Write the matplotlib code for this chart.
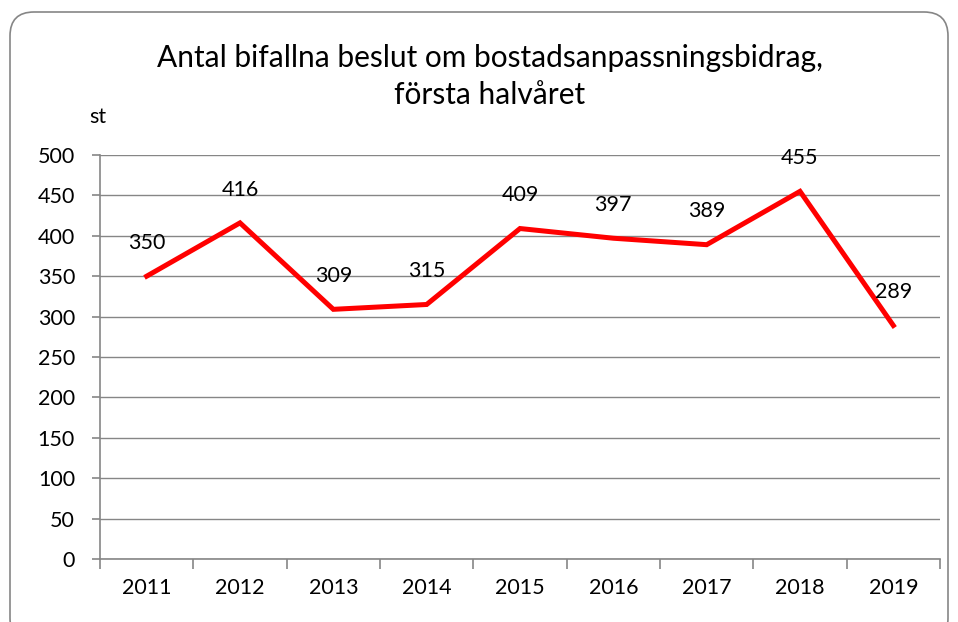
import matplotlib
matplotlib.use("Agg")
import matplotlib.pyplot as plt
from matplotlib.patches import FancyBboxPatch

years = ["2011", "2012", "2013", "2014", "2015", "2016", "2017", "2018", "2019"]
values = [350, 416, 309, 315, 409, 397, 389, 455, 289]
yticks = [0, 50, 100, 150, 200, 250, 300, 350, 400, 450, 500]

plt.rcParams['font.family'] = ['Lato', 'DejaVu Sans']
fig = plt.figure(figsize=(9.58, 6.22), dpi=100)
ax = fig.add_axes([100/958, 1-559/622, 840/958, 404/622])

gray = "#868686"
x = list(range(len(years)))
ax.plot(x, values, color="#FF0000", lw=3.6, solid_joinstyle="miter")
for xi, v in zip(x, values):
    ax.annotate(str(v), (xi, v), xytext=(0, 24), textcoords="offset points",
                ha="center", va="center", fontsize=15.5)

ax.set_xlim(-0.5, len(years) - 0.5)
ax.set_ylim(0, 500)
ax.set_yticks(yticks)
ax.set_yticklabels([str(t) for t in yticks], fontsize=15.5)
ax.set_xticks(x)
ax.set_xticklabels(years, fontsize=15.5)
ax.set_xticks([i - 0.5 for i in range(len(years) + 1)], minor=True)
ax.tick_params(axis="x", which="major", length=0, pad=14)
ax.tick_params(axis="x", which="minor", length=7, color=gray, width=1.2)
ax.tick_params(axis="y", length=6, color=gray, width=1.2, pad=12)
ax.grid(axis="y", color=gray, lw=1)
ax.set_axisbelow(True)
for s in ["top", "right"]:
    ax.spines[s].set_visible(False)
for s in ["left", "bottom"]:
    ax.spines[s].set_color(gray)
    ax.spines[s].set_linewidth(1.2)

fig.text(490/958, 1-58/622, "Antal bifallna beslut om bostadsanpassningsbidrag,",
         ha="center", va="center", fontsize=21.5)
fig.text(490/958, 1-95/622, "första halvåret", ha="center", va="center", fontsize=21.5)
fig.text(98/958, 1-117/622, "st", ha="center", va="center", fontsize=15.5)

border = FancyBboxPatch((10/958, -20/622), 938/958, 630/622,
                        boxstyle="round,pad=0,rounding_size=0.025",
                        transform=fig.transFigure, fill=False,
                        edgecolor="#868686", lw=1.2, mutation_aspect=958/622)
fig.patches.append(border)

fig.savefig("out.png", dpi=100)
